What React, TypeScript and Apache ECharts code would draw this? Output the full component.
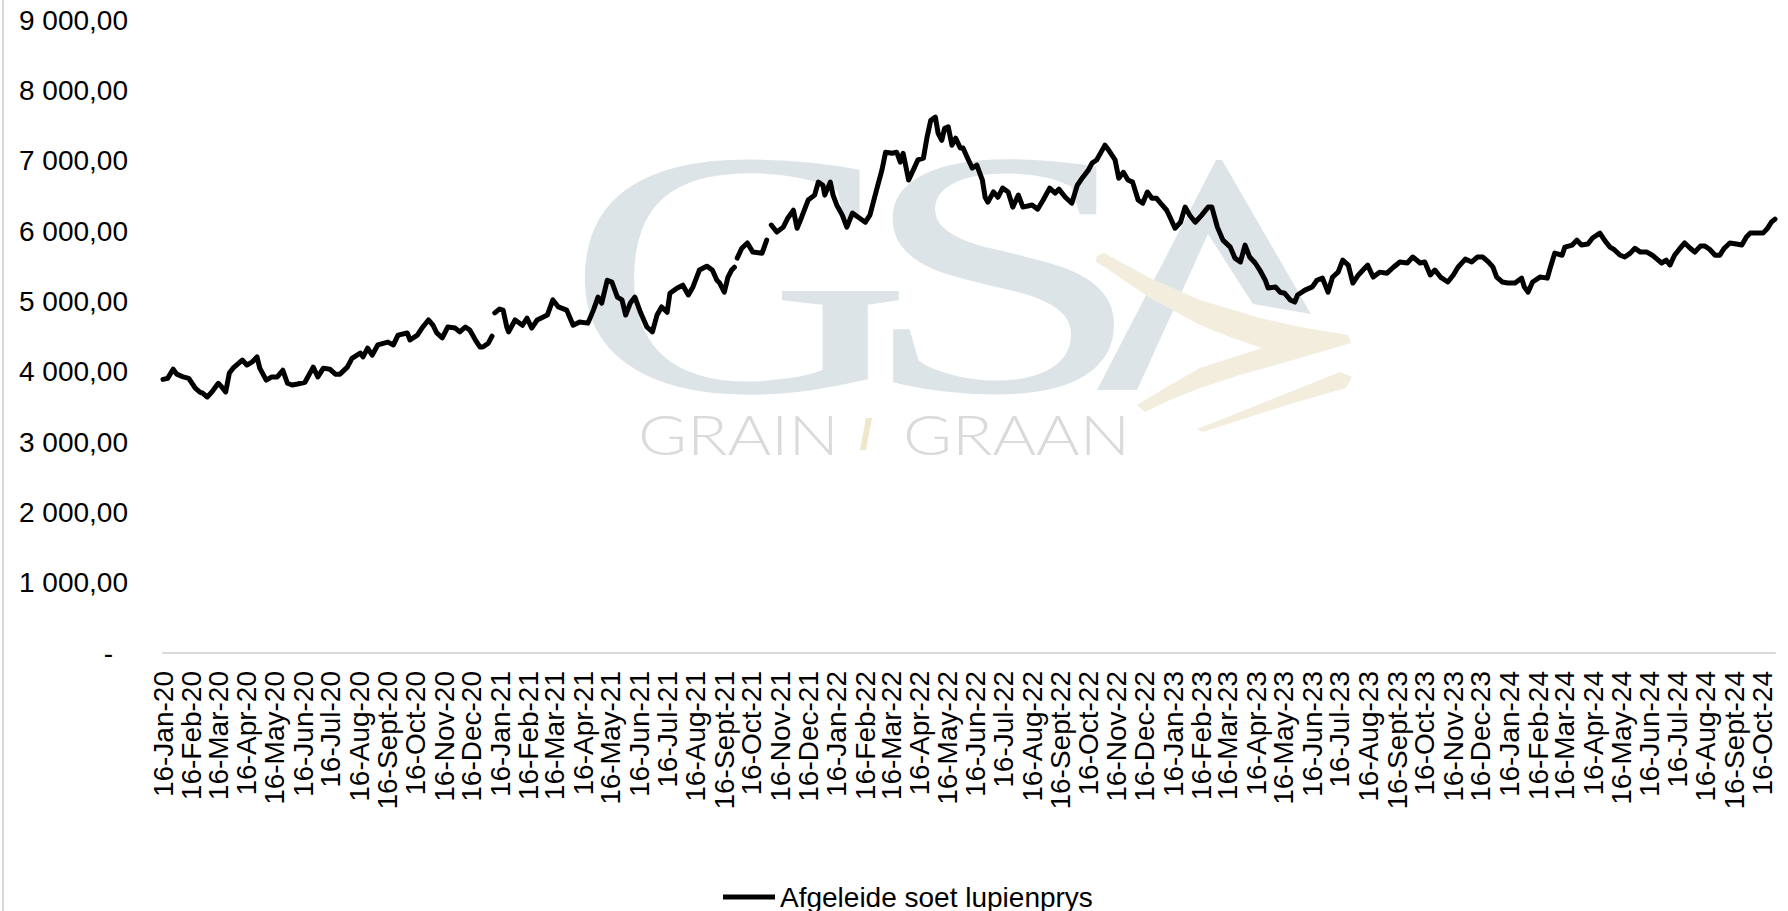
import React, { useEffect, useRef } from "react";
import * as echarts from "echarts";

const FONT = "'Liberation Sans', Arial, sans-serif";
const START = Date.UTC(2020, 0, 16);
const DAY = 86400000;
const AXIS_END_DAY = 1749;
const seriesName = "Afgeleide soet lupienprys";
const monthNames = ["Jan", "Feb", "Mar", "Apr", "May", "Jun", "Jul", "Aug", "Sept", "Oct", "Nov", "Dec"];
const labelYears = [2020, 2021, 2022, 2023, 2024];
const lastLabelMonthIndex = 9; // Oct-24

// day offsets from 16-Jan-20
const dayOffsets = [
  0, 5, 11, 15, 22, 28, 35, 40, 43, 48, 53, 60, 64, 68, 72, 76, 86, 91, 97, 102,
  105, 112, 118, 124, 130, 135, 140, 146, 154, 163, 168, 174, 181, 187, 192, 200, 205, 214, 217, 222,
  227, 233, 244, 250, 255, 265, 268, 276, 281, 288, 293, 297, 303, 309, 317, 322, 328, 333, 339, 344,
  347, 353, 357, 358, 360, 365, 369, 373, 375, 382, 390, 395, 400, 406, 417, 423, 429, 438, 445, 452,
  461, 467, 472, 476, 482, 487, 493, 498, 502, 507, 512, 518, 525, 531, 536, 541, 547, 550, 558, 564,
  570, 575, 582, 590, 596, 601, 604, 609, 613, 617, 620, 621, 623, 628, 634, 640, 650, 655, 657, 660,
  666, 673, 678, 684, 688, 693, 700, 707, 711, 716, 718, 724, 727, 731, 737, 742, 748, 754, 762, 767,
  775, 780, 784, 791, 796, 800, 803, 805, 809, 814, 819, 825, 829, 833, 838, 841, 845, 848, 852, 856,
  860, 865, 868, 873, 878, 883, 889, 892, 895, 901, 906, 911, 917, 922, 928, 933, 943, 949, 955, 962,
  968, 972, 979, 986, 992, 998, 1004, 1008, 1013, 1019, 1022, 1026, 1033, 1037, 1042, 1047, 1052, 1058, 1063, 1068,
  1073, 1078, 1084, 1089, 1093, 1098, 1104, 1109, 1114, 1120, 1127, 1134, 1138, 1144, 1150, 1158, 1163, 1169, 1174, 1179,
  1185, 1190, 1196, 1199, 1207, 1212, 1217, 1223, 1228, 1231, 1239, 1247, 1252, 1258, 1264, 1269, 1275, 1280, 1286, 1291,
  1297, 1302, 1307, 1313, 1320, 1328, 1335, 1342, 1350, 1356, 1364, 1369, 1375, 1380, 1386, 1394, 1400, 1405, 1413, 1420,
  1426, 1432, 1438, 1443, 1447, 1453, 1459, 1467, 1474, 1477, 1481, 1486, 1494, 1502, 1505, 1510, 1518, 1521, 1529, 1534,
  1539, 1546, 1551, 1559, 1564, 1570, 1575, 1581, 1586, 1592, 1597, 1603, 1610, 1616, 1621, 1626, 1631, 1635, 1640, 1646,
  1651, 1657, 1662, 1668, 1673, 1678, 1684, 1689, 1694, 1700, 1707, 1713, 1718, 1722, 1729, 1736, 1741, 1745, 1749,
];

// prices (null = missing value, the line breaks there)
const prices = [
  3890, 3905, 4035, 3965, 3925, 3905, 3765, 3710, 3695, 3640, 3710, 3835, 3780, 3710, 3980, 4050, 4165, 4095, 4140, 4210,
  4050, 3880, 3925, 3925, 4020, 3835, 3810, 3825, 3850, 4065, 3925, 4050, 4035, 3965, 3965, 4065, 4190, 4265, 4210, 4335,
  4235, 4380, 4420, 4380, 4520, 4550, 4450, 4520, 4620, 4735, 4660, 4550, 4480, 4635, 4620, 4565, 4635, 4590, 4450, 4350,
  4350, 4405, 4505, null, 4835, 4890, 4875, 4635, 4565, 4735, 4660, 4760, 4620, 4735, 4805, 5020, 4920, 4875, 4660, 4705,
  4690, 4875, 5060, 4975, 5300, 5275, 5060, 5020, 4805, 4975, 5060, 4845, 4635, 4565, 4805, 4920, 4845, 5115, 5190, 5230,
  5090, 5205, 5445, 5500, 5445, 5300, 5260, 5130, 5345, 5445, 5485, null, 5615, 5755, 5830, 5700, 5685, 5870, null, 6085,
  5985, 6055, 6185, 6295, 6040, 6200, 6440, 6510, 6695, 6650, 6510, 6695, 6510, 6370, 6225, 6055, 6255, 6200, 6125, 6225,
  6625, 6865, 7120, 7105, 7120, 6980, 7105, 6980, 6725, 6865, 7010, 7035, 7335, 7575, 7620, 7390, 7290, 7460, 7480, 7220,
  7320, 7180, 7180, 7035, 6895, 6935, 6725, 6480, 6410, 6555, 6480, 6610, 6555, 6340, 6510, 6340, 6370, 6310, 6440, 6610,
  6540, 6595, 6480, 6395, 6650, 6765, 6865, 6965, 7010, 7150, 7220, 7150, 7010, 6750, 6835, 6725, 6695, 6440, 6395, 6555,
  6465, 6465, 6370, 6295, 6185, 6040, 6125, 6340, 6225, 6125, 6225, 6340, 6340, 6055, 5870, 5770, 5615, 5560, 5800, 5630,
  5545, 5445, 5300, 5190, 5205, 5130, 5115, 5020, 4990, 5090, 5160, 5205, 5300, 5330, 5130, 5345, 5415, 5585, 5515, 5260,
  5375, 5445, 5515, 5345, 5415, 5400, 5485, 5560, 5545, 5630, 5545, 5560, 5375, 5445, 5345, 5275, 5375, 5485, 5600, 5560,
  5630, 5630, 5560, 5485, 5345, 5275, 5260, 5260, 5330, 5205, 5130, 5275, 5345, 5330, 5470, 5685, 5655, 5770, 5800, 5870,
  5800, 5815, 5900, 5970, 5870, 5770, 5730, 5655, 5630, 5685, 5755, 5700, 5700, 5655, 5600, 5545, 5585, 5515, 5655, 5755,
  5830, 5755, 5700, 5785, 5785, 5740, 5655, 5655, 5755, 5830, 5815, 5800, 5915, 5970, 5970, 5970, 6040, 6125, 6170,
];

const Y_MIN = 0;
const Y_MAX = 9000;
const Y_STEP = 1000;

// day offsets of the 16th of every month, used as tick-label positions
function buildLabelDays(): number[] {
  const out: number[] = [];
  for (const y of labelYears) {
    for (let m = 0; m < 12; m++) {
      if (y === labelYears[labelYears.length - 1] && m > lastLabelMonthIndex) break;
      out.push(Math.round((Date.UTC(y, m, 16) - START) / DAY));
    }
  }
  return out;
}

function fmtY(v: number): string {
  if (v === 0) return "{dash|-}";
  const [ip, dp] = v.toFixed(2).split(".");
  return ip.replace(/\B(?=(\d{3})+(?!\d))/g, " ") + "," + dp;
}

function fmtX(v: number): string {
  const d = new Date(START + v * DAY);
  return "16-" + monthNames[d.getUTCMonth()] + "-" + String(d.getUTCFullYear()).slice(2);
}

export default function App() {
  const ref = useRef<HTMLDivElement>(null);
  useEffect(() => {
    document.body.style.margin = "0";
    if (!ref.current) return;
    const chart = echarts.init(ref.current, undefined, { renderer: "svg" });
    const labelDays = buildLabelDays();
    const mainLabelDays = labelDays.slice(0, -1);
    const lastLabelDays = labelDays.slice(-1);
    const data = dayOffsets.map((d, i) => [d, prices[i] === null ? "-" : prices[i]]);
    const wmBlue = "#dde4e7";
    const wmBeige = "#f3eddd";
    const wmGrey = "#dadada";
    const xLabelStyle = {
      formatter: (v: number) => fmtX(v),
      rotate: 90,
      margin: 18,
      fontFamily: FONT,
      fontSize: 28,
      color: "#000",
    };
    chart.setOption({
      animation: false,
      backgroundColor: "#fff",
      textStyle: { fontFamily: FONT },
      grid: { left: 163, right: 13, top: 20, bottom: 258, containLabel: false },
      graphic: [
        { type: "line", z: 0, shape: { x1: 3, y1: 0, x2: 3, y2: 911 }, style: { stroke: "#d9d9d9", lineWidth: 2 } },
        {
          type: "text", z: 0, x: 565, y: 273, scaleX: 1.38,
          style: { text: "G", fontFamily: "'Liberation Serif', serif", fontSize: 350, fill: wmBlue, verticalAlign: "middle", align: "left" },
        },
        {
          type: "text", z: 0, x: 858, y: 273, scaleX: 1.48,
          style: { text: "S", fontFamily: "'Liberation Serif', serif", fontSize: 350, fill: wmBlue, verticalAlign: "middle", align: "left" },
        },
        {
          type: "polygon", z: 0,
          shape: { points: [[1216, 160], [1222, 160], [1311, 314], [1253, 304], [1208, 234], [1137, 390], [1097, 390]] },
          style: { fill: wmBlue },
        },
        {
          type: "polygon", z: 0,
          shape: {
            points: [[1097, 256], [1104, 253], [1150, 278], [1200, 300], [1260, 318], [1300, 327], [1348, 335], [1351, 343],
              [1300, 358], [1240, 375], [1200, 388], [1170, 400], [1145, 412], [1137, 405], [1170, 385], [1200, 368],
              [1262, 348], [1230, 337], [1200, 325], [1150, 298], [1106, 268], [1096, 262]],
          },
          style: { fill: wmBeige },
        },
        {
          type: "polygon", z: 0,
          shape: { points: [[1197, 429], [1240, 412], [1290, 392], [1340, 372], [1352, 377], [1346, 388], [1290, 404], [1240, 420], [1203, 432]] },
          style: { fill: wmBeige },
        },
        {
          type: "text", z: 0, x: 638, y: 433, scaleX: 1.19,
          style: { text: "GRAIN", fontFamily: "Lato, sans-serif", fontWeight: 300, fontSize: 56, fill: wmGrey, verticalAlign: "middle", align: "left" },
        },
        {
          type: "polygon", z: 0,
          shape: { points: [[866, 418], [872, 418], [866, 450], [860, 450]] },
          style: { fill: "#efe6cc" },
        },
        {
          type: "text", z: 0, x: 903, y: 433, scaleX: 1.19,
          style: { text: "GRAAN", fontFamily: "Lato, sans-serif", fontWeight: 300, fontSize: 56, fill: wmGrey, verticalAlign: "middle", align: "left" },
        },
      ],
      legend: {
        data: [seriesName],
        left: 718,
        top: 878,
        icon: "rect",
        itemWidth: 52,
        itemHeight: 5,
        textStyle: { fontFamily: FONT, fontSize: 28, color: "#000" },
      },
      xAxis: [
        {
          type: "value",
          position: "bottom",
          min: 0,
          max: AXIS_END_DAY,
          axisLine: { show: true, onZero: false, lineStyle: { color: "#d9d9d9", width: 2 } },
          axisTick: { show: false },
          splitLine: { show: false },
          axisLabel: { ...xLabelStyle, customValues: mainLabelDays },
        },
        {
          type: "value",
          position: "bottom",
          min: 0,
          max: AXIS_END_DAY,
          axisLine: { show: false, onZero: false },
          axisTick: { show: false },
          splitLine: { show: false },
          axisLabel: { ...xLabelStyle, customValues: lastLabelDays },
        },
      ],
      yAxis: {
        type: "value",
        min: Y_MIN,
        max: Y_MAX,
        interval: Y_STEP,
        axisLine: { show: false },
        axisTick: { show: false },
        splitLine: { show: false },
        axisLabel: {
          margin: 35,
          fontFamily: FONT,
          fontSize: 28,
          color: "#000",
          formatter: (v: number) => fmtY(v),
          rich: { dash: { fontFamily: FONT, fontSize: 28, color: "#000", padding: [0, 15, 0, 0] } },
        },
      },
      series: [
        {
          name: seriesName,
          type: "line",
          xAxisIndex: 0,
          data,
          showSymbol: false,
          symbol: "none",
          connectNulls: false,
          z: 5,
          itemStyle: { color: "#000" },
          lineStyle: { color: "#000", width: 5, join: "round", cap: "round" },
        },
      ],
    });
    return () => chart.dispose();
  }, []);
  return <div ref={ref} style={{ width: 1788, height: 911 }} />;
}
